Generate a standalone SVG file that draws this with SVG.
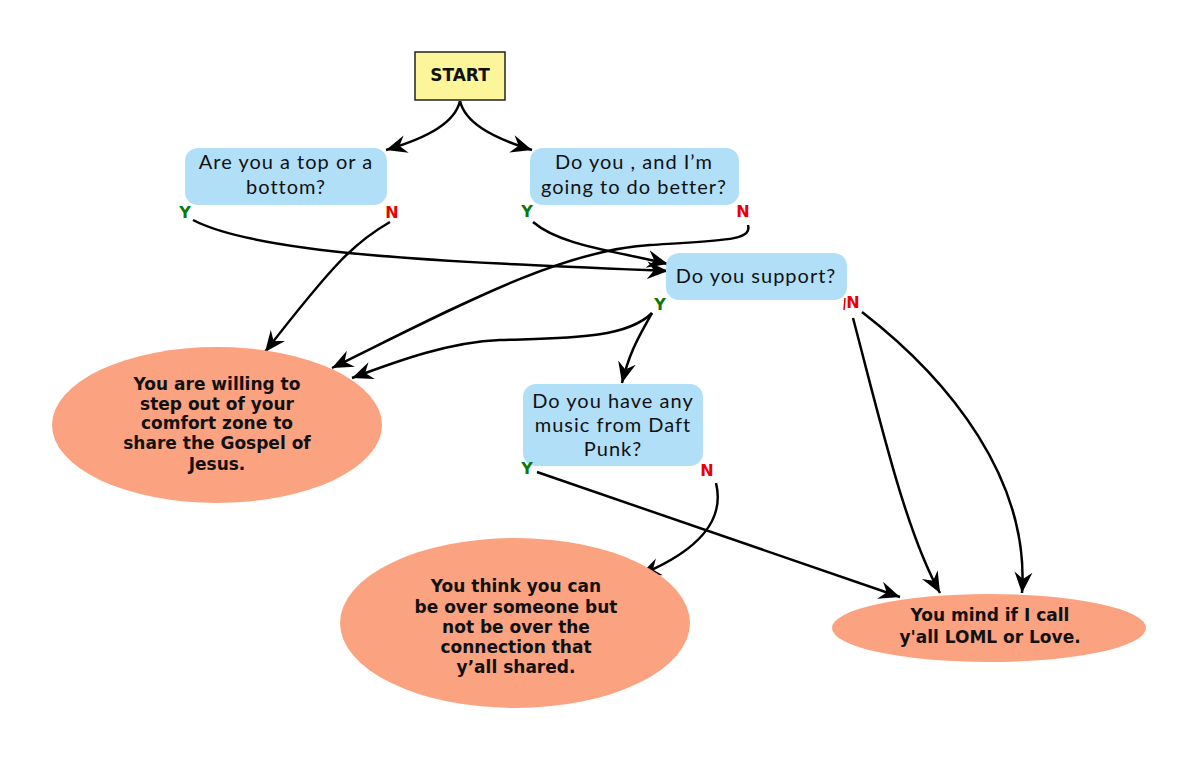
<svg xmlns="http://www.w3.org/2000/svg" width="1200" height="757" viewBox="0 0 1200 757">
<defs>
<marker id="arr" markerUnits="userSpaceOnUse" markerWidth="24" markerHeight="20" refX="21" refY="10" orient="auto">
<path d="M0,1 L21,10 L0,19 L7,10 z" fill="#000"/>
</marker>
<style>
.box{fill:#b1dff8;}
.start{fill:#fdf59a;stroke:#222;stroke-width:1.5;}
.ell{fill:#fba281;}
.bt{font-family:Lato,"Noto Sans",sans-serif;font-size:20px;letter-spacing:1px;fill:#111;text-anchor:middle;}
.et{font-family:"DejaVu Sans","Liberation Sans",sans-serif;font-weight:bold;font-size:17px;fill:#111;text-anchor:middle;}
.y{font-family:"DejaVu Sans",sans-serif;font-weight:bold;font-size:16px;fill:#0a7a0a;text-anchor:middle;}
.n{font-family:"DejaVu Sans",sans-serif;font-weight:bold;font-size:16px;fill:#e80000;text-anchor:middle;}
.c{fill:none;stroke:#000;stroke-width:2.5;marker-end:url(#arr);}
</style>
</defs>
<rect width="1200" height="757" fill="#fff"/>
<g id="connectors">
<path class="c" d="M460,101 C455,122 430,137 386,150"/>
<path class="c" d="M460,101 C465,122 490,137 532,150"/>
<path class="c" d="M193,220 C260,255 450,262 668,271"/>
<path class="c" d="M390,222 C355,242 335,262 265,352"/>
<path class="c" d="M533,222 C560,245 610,250 668,264"/>
<path class="c" d="M748,225 C752,240 730,240 650,245 C560,250 450,310 332,368"/>
<path class="c" d="M652,313 C625,340 560,338 500,340 C450,342 400,360 352,378"/>
<path class="c" d="M652,313 C640,335 630,350 622,383"/>
<path class="c" d="M853,318 C880,420 905,530 940,593"/>
<path class="c" d="M862,312 C950,380 1030,480 1022,593"/>
<path class="c" d="M537,472 L900,597"/>
<path class="c" d="M716,483 C725,520 700,550 640,575"/>
</g>
<g id="start">
<rect class="start" x="415" y="52" width="90" height="48"/>
<text x="460" y="81" class="et" style="font-size:17px">START</text>
</g>
<g id="q1">
<rect class="box" x="185" y="148" width="202" height="57" rx="13"/>
<text class="bt" x="286" y="169">Are you a top or a</text>
<text class="bt" x="286" y="194">bottom?</text>
<text class="y" x="185" y="218">Y</text>
<text class="n" x="392" y="218">N</text>
</g>
<g id="q2">
<rect class="box" x="530" y="148" width="209" height="57" rx="13"/>
<text class="bt" x="634" y="169">Do you , and I’m</text>
<text class="bt" x="634" y="194">going to do better?</text>
<text class="y" x="527" y="217">Y</text>
<text class="n" x="743" y="217">N</text>
</g>
<g id="q3">
<rect class="box" x="666" y="253" width="181" height="47" rx="13"/>
<text class="bt" x="756" y="283">Do you support?</text>
<text class="y" x="660" y="310">Y</text>
<line x1="845" y1="298" x2="844" y2="310" stroke="#e80000" stroke-width="1.5"/>
<text class="n" x="853" y="308">N</text>
</g>
<g id="q4">
<rect class="box" x="523" y="384" width="180" height="82" rx="13"/>
<text class="bt" x="613" y="408">Do you have any</text>
<text class="bt" x="613" y="432">music from Daft</text>
<text class="bt" x="613" y="456">Punk?</text>
<text class="y" x="527" y="474">Y</text>
<text class="n" x="707" y="476">N</text>
</g>
<g id="r1">
<ellipse class="ell" cx="217" cy="425" rx="165" ry="78"/>
<text class="et" x="217" y="390">You are willing to</text>
<text class="et" x="217" y="410">step out of your</text>
<text class="et" x="217" y="429">comfort zone to</text>
<text class="et" x="217" y="449">share the Gospel of</text>
<text class="et" x="217" y="470">Jesus.</text>
</g>
<g id="r2">
<ellipse class="ell" cx="515" cy="623" rx="175" ry="85"/>
<text class="et" x="516" y="592">You think you can</text>
<text class="et" x="516" y="613">be over someone but</text>
<text class="et" x="516" y="633">not be over the</text>
<text class="et" x="516" y="653">connection that</text>
<text class="et" x="516" y="673">y’all shared.</text>
</g>
<g id="r3">
<ellipse class="ell" cx="989" cy="628" rx="157" ry="34"/>
<text class="et" x="990" y="621">You mind if I call</text>
<text class="et" x="990" y="643">y'all LOML or Love.</text>
</g>
</svg>
